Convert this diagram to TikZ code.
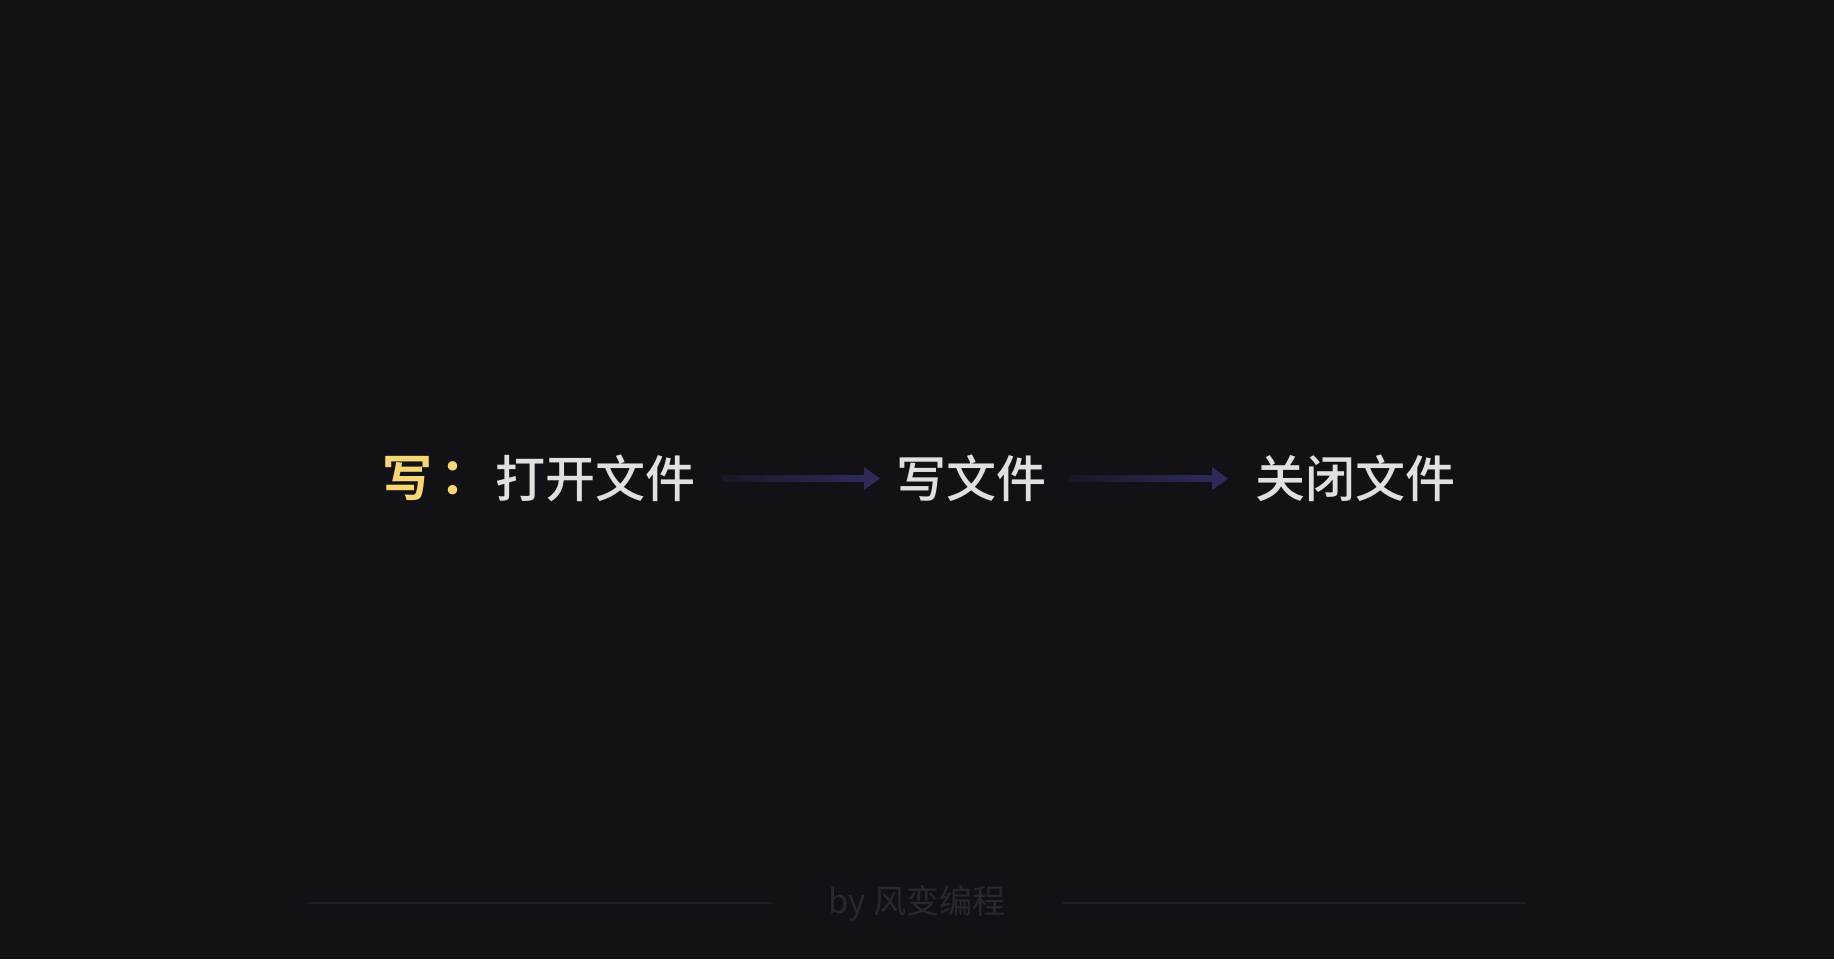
\documentclass[tikz,border=0pt]{standalone}
\usepackage{fontspec}
\setmainfont{Noto Sans CJK SC}
\newfontfamily\medfont{Noto Sans CJK SC}[UprightFont=* Medium]
\newfontfamily\bfcjk{Noto Sans CJK SC}[UprightFont=* Bold]
\usetikzlibrary{calc}
\definecolor{bg}{HTML}{111116}
\definecolor{txt}{HTML}{E0E0E0}
\definecolor{yel}{HTML}{F7D774}
\definecolor{arr}{HTML}{2E2A5A}
\definecolor{foot}{HTML}{28282E}
\definecolor{footline}{HTML}{1E1E24}
\begin{document}
\begin{tikzpicture}[x=1pt,y=-1pt,
  big/.style={font=\medfont\fontsize{50}{50}\selectfont, inner sep=0pt, anchor=west},
  stepnode/.style={big, text=txt}]
\fill[bg] (0,0) rectangle (1834,959);
\useasboundingbox (0,0) rectangle (1834,959);
\node[big, font=\bfcjk\fontsize{50}{50}\selectfont, text=yel] (w) at (382,478.5) {写};
\node[big, font=\bfcjk\fontsize{50}{50}\selectfont, text=yel] (colon) at (440,478.5) {：};
\node[stepnode] (open) at (495,478.5) {打开文件};
\node[stepnode] (write) at (896,478.5) {写文件};
\node[stepnode] (close) at (1255,478.5) {关闭文件};
% arrows
\coordinate (a1s) at ($(open.east)+(27,0)$);
\coordinate (a1e) at ($(write.west)+(-16,0)$);
\coordinate (a2s) at ($(write.east)+(23,0)$);
\coordinate (a2e) at ($(close.west)+(-27,0)$);
\foreach \s/\e in {a1s/a1e, a2s/a2e}{
  \shade[left color=arr!25!bg, right color=arr] ($(\s)+(0,-3.3)$) rectangle ($(\e)+(-15,3.3)$);
  \fill[arr] ($(\e)+(-16,-11.5)$) -- (\e) -- ($(\e)+(-16,11.5)$) -- cycle;
}
% footer
\node[font=\fontsize{33}{33}\selectfont, text=foot, inner sep=0pt] (by) at (917,903) {by 风变编程};
\coordinate (l1) at (308,903);
\coordinate (l2) at (772,903);
\coordinate (r1) at (1063,903);
\coordinate (r2) at (1526,903);
\draw[footline, line width=2pt] (l1) -- (l2);
\draw[footline, line width=2pt] (r1) -- (r2);
\end{tikzpicture}
\end{document}
